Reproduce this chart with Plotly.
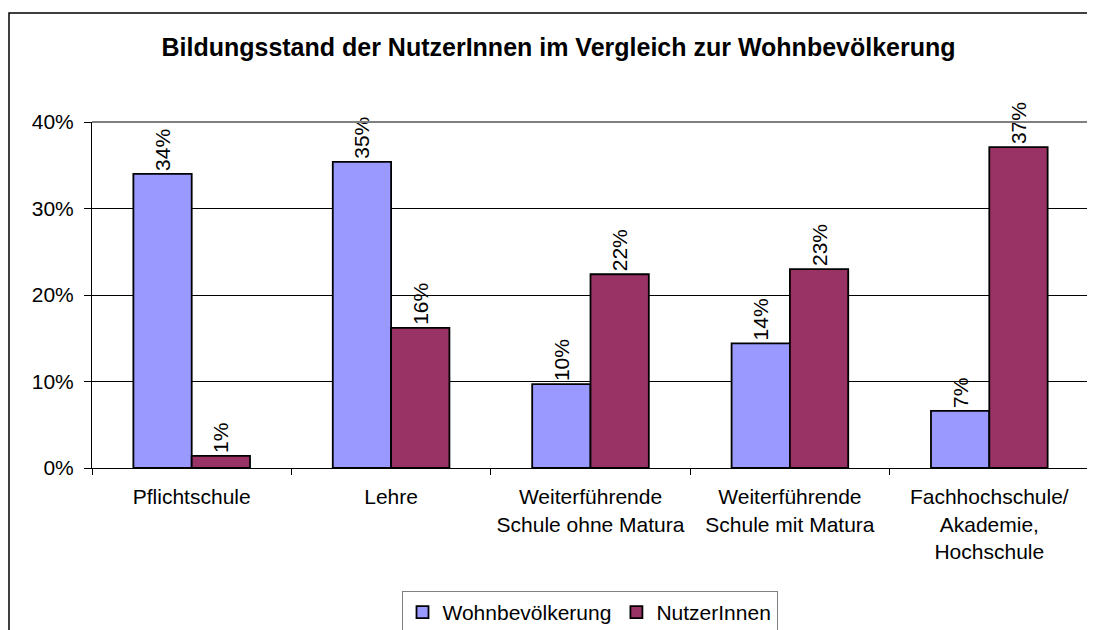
import plotly.graph_objects as go

categories = ["Pflichtschule", "Lehre", "Weiterführende<br>Schule ohne Matura",
              "Weiterführende<br>Schule mit Matura", "Fachhochschule/<br>Akademie,<br>Hochschule"]
wohnbevoelkerung = [0.340, 0.354, 0.097, 0.144, 0.066]
nutzerinnen = [0.014, 0.162, 0.224, 0.230, 0.371]
y_ticks = [0, 0.1, 0.2, 0.3, 0.4]
y_tick_labels = ["0%", "10%", "20%", "30%", "40%"]

FONT = "Liberation Sans, Arial, sans-serif"
W, H = 1087, 622
L, T, R, B = 84, 114, 6, 162
PW, PH = W - L - R, H - T - B

fig = go.Figure()
fig.add_trace(go.Bar(
    name="Wohnbevölkerung", x=categories, y=wohnbevoelkerung,
    marker=dict(color="#9999FF", line=dict(color="#000000", width=1.8)),
    texttemplate="%{y:.0%}", textposition="outside", textangle=-90,
    textfont=dict(size=21, color="#000000", family=FONT),
    constraintext="none", cliponaxis=False,
))
fig.add_trace(go.Bar(
    name="NutzerInnen", x=categories, y=nutzerinnen,
    marker=dict(color="#993366", line=dict(color="#000000", width=1.8)),
    texttemplate="%{y:.0%}", textposition="outside", textangle=-90,
    textfont=dict(size=21, color="#000000", family=FONT),
    constraintext="none", cliponaxis=False,
))

fig.update_layout(
    width=W, height=H,
    margin=dict(l=L, r=R, t=T, b=B, autoexpand=False),
    paper_bgcolor="white", plot_bgcolor="white",
    font=dict(family=FONT, size=21, color="#000000"),
    barmode="group", bargap=0.415, bargroupgap=0,
    title=dict(text="<b>Bildungsstand der NutzerInnen im Vergleich zur Wohnbevölkerung</b>",
               x=550.5 / W, xanchor="center", y=1 - 39 / H, yanchor="middle",
               font=dict(size=25, family=FONT, color="#000000")),
    showlegend=True,
    legend=dict(orientation="h", x=(589.5 - 8 - L) / PW, xanchor="center",
                y=-(591 - 468) / PH, yanchor="top",
                bordercolor="#808080", borderwidth=1, bgcolor="white",
                font=dict(size=21, family=FONT), itemwidth=30,
                traceorder="normal"),
)

fig.update_yaxes(
    range=[0, 0.4], tickvals=y_ticks, ticktext=y_tick_labels,
    showgrid=True, gridcolor="#000000", gridwidth=1,
    showline=True, linecolor="#000000", linewidth=1,
    ticks="outside", ticklen=7, tickcolor="#000000", ticklabelstandoff=6,
    zeroline=False, fixedrange=True,
)
fig.update_xaxes(
    showline=True, linecolor="#000000", linewidth=1,
    ticks="outside", ticklen=6, tickcolor="#000000", tickson="boundaries",
    ticklabelstandoff=10,
    showgrid=False, fixedrange=True,
)

# plot area gray border (top and right)
fig.add_shape(type="line", xref="paper", yref="paper", x0=0, x1=1, y0=1, y1=1,
              line=dict(color="#808080", width=2))
fig.add_shape(type="line", xref="paper", yref="paper", x0=1, x1=1, y0=0, y1=1,
              line=dict(color="#808080", width=2))
# chart area border (extends beyond the visible image on right and bottom)
fig.add_shape(type="rect", xref="paper", yref="paper",
              x0=(1 - L) / PW, x1=(W + 20 - L) / PW,
              y0=-(B + 20) / PH, y1=(PH + T - 5) / PH,
              line=dict(color="#000000", width=1.5), layer="below")

fig.write_html("out.html")
